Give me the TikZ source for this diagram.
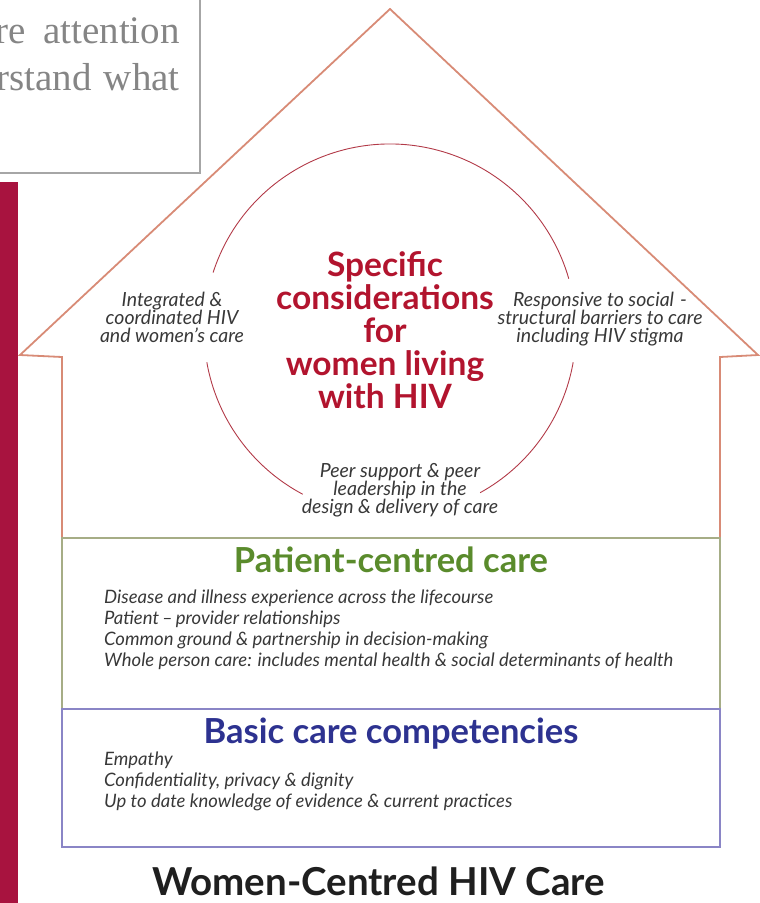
\documentclass[tikz,border=0pt]{standalone}
\usepackage{fontspec}
\setmainfont{Lato}
\newfontfamily\timesf{Liberation Serif}
\definecolor{roofc}{HTML}{D88B76}
\definecolor{greenb}{HTML}{A6AD86}
\definecolor{blueb}{HTML}{8A85C6}
\definecolor{circc}{HTML}{B23A48}
\definecolor{titler}{HTML}{B2142E}
\definecolor{titleg}{HTML}{5A8B2C}
\definecolor{titleb}{HTML}{2D3290}
\definecolor{itc}{HTML}{383838}
\definecolor{barc}{HTML}{A8133F}
\definecolor{boxg}{HTML}{A6A6A6}
\definecolor{txtg}{HTML}{858585}
\tikzset{
  itlabel/.style={font=\itshape\fontsize{19.5}{18}\selectfont, text=itc, align=center, inner sep=0pt, anchor=base},
  itlist/.style={font=\itshape\fontsize{18.5}{21}\selectfont, text=itc, align=left, inner sep=0pt, anchor=base west},
  serif/.style={font=\timesf\fontsize{39}{47}\selectfont, text=txtg, inner sep=0pt, anchor=base east},
  sectitle/.style={font=\bfseries\fontsize{34.5}{36}\selectfont, inner sep=0pt, anchor=base},
}
\begin{document}
\begin{tikzpicture}[x=1pt,y=-1pt]
\useasboundingbox (0,0) rectangle (760,903);
% top-left page fragment
\draw[boxg, line width=1.2pt] (-5,-5) rectangle (200,173);
\node[serif] (s1) at (180,43) {re\hspace{18pt}attention};
\node[serif] (s2) at (180,90) {rstand\hspace{12pt}what};
% crimson bar
\fill[barc] (0,182) rectangle (18,903);
% roof
\draw[roofc, line width=1.8pt, line join=miter] (62,538) -- (62,357) -- (20,355) -- (390,9) -- (758,355) -- (720,357) -- (720,538);
% sections
\draw[greenb, line width=1.8pt] (62,538) rectangle (720,709);
\draw[blueb, line width=1.8pt] (62,709) rectangle (720,847);
% circle arcs (centre 390,330; r 186)
\coordinate (cc) at (390,330);
\begin{scope}[circc, line width=0.9pt]
\draw ([shift={(198:186)}]cc) arc[start angle=198, end angle=344, radius=186];
\draw ([shift={(10:186)}]cc) arc[start angle=10, end angle=61, radius=186];
\draw ([shift={(118:186)}]cc) arc[start angle=118, end angle=170, radius=186];
\end{scope}
% centre title
\node[font=\bfseries\fontsize{33.5}{33}\selectfont, text=titler, align=center, inner sep=0pt, anchor=base] (title) at (385,408)
  {Specific\\considerations\\for\\women living\\with HIV};
\node[itlabel] (lab1) at (172,342) {Integrated \&\\coordinated HIV\\and women's care};
\node[itlabel] (lab2) at (600,342) {Responsive to social\hspace{6pt}-\\structural barriers to care\\including HIV stigma};
\node[itlabel] (lab3) at (400,513) {Peer support \& peer\\leadership in the\\design \& delivery of care};
% patient centred
\node[sectitle, text=titleg] (pcc) at (391,572) {Patient-centred care};
\node[itlist] (pcl) at (104,666) {Disease and illness experience across the lifecourse\\Patient\,–\,provider relationships\\Common ground \& partnership in decision-making\\Whole person care: includes mental health \& social determinants of health};
% basic
\node[sectitle, text=titleb] (bcc) at (391,743) {Basic care competencies};
\node[itlist] (bcl) at (104,807) {Empathy\\Confidentiality, privacy \& dignity\\Up to date knowledge of evidence \& current practices};
% footer
\node[font=\bfseries\fontsize{38.5}{40}\selectfont, text=black!88, inner sep=0pt, anchor=base] (foot) at (378.5,895) {Women-Centred HIV Care};
\end{tikzpicture}
\end{document}
